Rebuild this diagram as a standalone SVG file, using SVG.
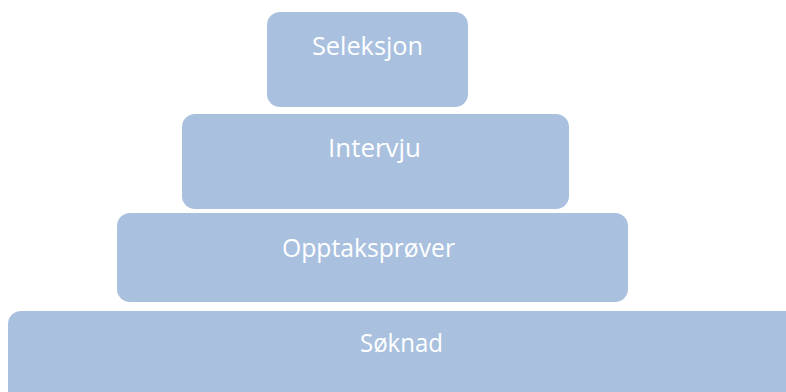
<svg xmlns="http://www.w3.org/2000/svg" width="786" height="392" viewBox="0 0 786 392">
<style>
.box{fill:#A9C1DF;}
.lbl{fill:#FFFFFF;font-family:"Open Sans","Liberation Sans",sans-serif;font-size:25px;text-anchor:middle;}
</style>
<rect width="786" height="392" fill="#FFFFFF"/>
<g id="soknad">
<rect class="box" x="8" y="311" width="800" height="110" rx="13"/>
<text class="lbl" x="401.5" y="352" textLength="83" lengthAdjust="spacingAndGlyphs">Søknad</text>
</g>
<g id="opptaksprover">
<rect class="box" x="117" y="213" width="511" height="89" rx="13"/>
<text class="lbl" x="368.5" y="257" textLength="173" lengthAdjust="spacingAndGlyphs">Opptaksprøver</text>
</g>
<g id="intervju">
<rect class="box" x="182" y="114" width="387" height="95" rx="13"/>
<text class="lbl" x="374.5" y="157" textLength="93" lengthAdjust="spacingAndGlyphs">Intervju</text>
</g>
<g id="seleksjon">
<rect class="box" x="267" y="12" width="201" height="95" rx="13"/>
<text class="lbl" x="367.5" y="55" textLength="111" lengthAdjust="spacingAndGlyphs">Seleksjon</text>
</g>
<g id="connectors"></g>
</svg>
